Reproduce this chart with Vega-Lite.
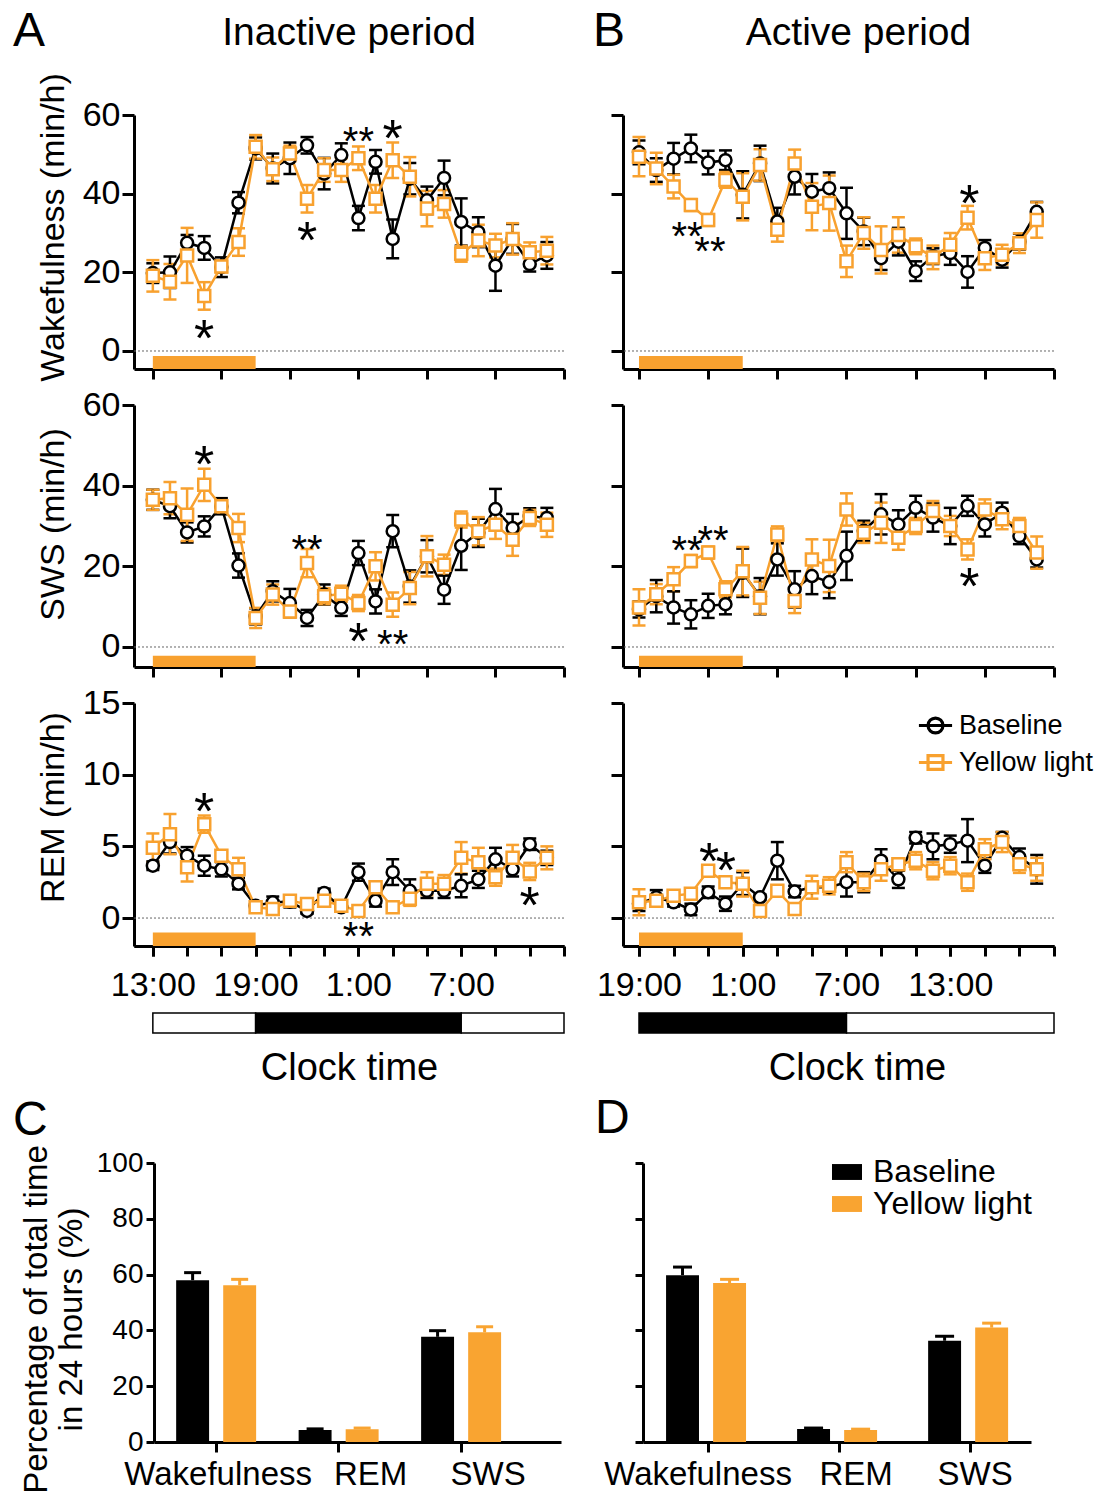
{
"$schema":"https://vega.github.io/schema/vega-lite/v6.json",
"background":"white",
"padding":{"left":12,"top":8,"right":0,"bottom":0},
"config":{
 "view":{"stroke":null},
 "font":"Liberation Sans",
 "point":{"opacity":1},
 "tick":{"opacity":1},
 "axis":{"domainColor":"black","domainWidth":3,"tickColor":"black","tickWidth":3,"tickSize":12,"labelColor":"black","labelFont":"Liberation Sans","labelFontSize":34,"titleFont":"Liberation Sans","titleFontSize":34,"titleFontWeight":"normal","titleColor":"black","grid":false,"labelPadding":2,"titlePadding":12}
},
"datasets":{
 "light":[{"s":0,"e":6}],
 "ldA":[{"s":0,"e":6,"k":"L"},{"s":6,"e":18,"k":"D"},{"s":18,"e":24,"k":"L"}],
 "ldB":[{"s":0,"e":12,"k":"D"},{"s":12,"e":24,"k":"L"}],
 "wA":[
{"h":0,"c":"Baseline","v":19.8,"e":2.5},{"h":1,"c":"Baseline","v":20,"e":4},{"h":2,"c":"Baseline","v":27.5,"e":2},{"h":3,"c":"Baseline","v":26.2,"e":3},{"h":4,"c":"Baseline","v":21.3,"e":2.5},{"h":5,"c":"Baseline","v":37.7,"e":2.7},{"h":6,"c":"Baseline","v":51.5,"e":2.8},{"h":7,"c":"Baseline","v":46.4,"e":3.8},{"h":8,"c":"Baseline","v":49,"e":4},{"h":9,"c":"Baseline","v":52.3,"e":2.1},{"h":10,"c":"Baseline","v":45.1,"e":4},{"h":11,"c":"Baseline","v":49.8,"e":3},{"h":12,"c":"Baseline","v":33.8,"e":3.1},{"h":13,"c":"Baseline","v":48.1,"e":3},{"h":14,"c":"Baseline","v":28.5,"e":4.9},{"h":15,"c":"Baseline","v":43.8,"e":4},{"h":16,"c":"Baseline","v":38.3,"e":3.5},{"h":17,"c":"Baseline","v":44,"e":4.4},{"h":18,"c":"Baseline","v":32.8,"e":6},{"h":19,"c":"Baseline","v":30.2,"e":3.8},{"h":20,"c":"Baseline","v":21.7,"e":6.4},{"h":21,"c":"Baseline","v":28.5,"e":3.8},{"h":22,"c":"Baseline","v":22.1,"e":1.9},{"h":23,"c":"Baseline","v":24.3,"e":3.4},
{"h":0,"c":"Yellow light","v":19.1,"e":4},{"h":1,"c":"Yellow light","v":17.6,"e":4.5},{"h":2,"c":"Yellow light","v":24.3,"e":7},{"h":3,"c":"Yellow light","v":14,"e":3.5},{"h":4,"c":"Yellow light","v":21.5,"e":1.5},{"h":5,"c":"Yellow light","v":27.7,"e":3.5},{"h":6,"c":"Yellow light","v":51.9,"e":3},{"h":7,"c":"Yellow light","v":46.2,"e":3},{"h":8,"c":"Yellow light","v":50.2,"e":2},{"h":9,"c":"Yellow light","v":38.7,"e":3.5},{"h":10,"c":"Yellow light","v":46,"e":3},{"h":11,"c":"Yellow light","v":46,"e":3},{"h":12,"c":"Yellow light","v":49,"e":3},{"h":13,"c":"Yellow light","v":38.7,"e":3.5},{"h":14,"c":"Yellow light","v":48.5,"e":4.5},{"h":15,"c":"Yellow light","v":44.3,"e":5},{"h":16,"c":"Yellow light","v":36.2,"e":4.5},{"h":17,"c":"Yellow light","v":37.4,"e":3.5},{"h":18,"c":"Yellow light","v":24.7,"e":2},{"h":19,"c":"Yellow light","v":28.1,"e":4},{"h":20,"c":"Yellow light","v":26.8,"e":3},{"h":21,"c":"Yellow light","v":28.5,"e":4},{"h":22,"c":"Yellow light","v":25.1,"e":2.5},{"h":23,"c":"Yellow light","v":25.5,"e":3.5}],
 "wB":[
{"h":0,"c":"Baseline","v":50.5,"e":3},{"h":1,"c":"Baseline","v":46,"e":3},{"h":2,"c":"Baseline","v":48.9,"e":4},{"h":3,"c":"Baseline","v":51.5,"e":3.5},{"h":4,"c":"Baseline","v":47.9,"e":3},{"h":5,"c":"Baseline","v":48.5,"e":2.5},{"h":6,"c":"Baseline","v":39.7,"e":6},{"h":7,"c":"Baseline","v":47.7,"e":4.5},{"h":8,"c":"Baseline","v":32.9,"e":3.5},{"h":9,"c":"Baseline","v":44.3,"e":4.5},{"h":10,"c":"Baseline","v":40.5,"e":4.5},{"h":11,"c":"Baseline","v":41.4,"e":4},{"h":12,"c":"Baseline","v":35,"e":6.5},{"h":13,"c":"Baseline","v":30.4,"e":3.5},{"h":14,"c":"Baseline","v":23.6,"e":3},{"h":15,"c":"Baseline","v":27.8,"e":3.5},{"h":16,"c":"Baseline","v":20.3,"e":2.5},{"h":17,"c":"Baseline","v":24.1,"e":2},{"h":18,"c":"Baseline","v":24.9,"e":3},{"h":19,"c":"Baseline","v":20.1,"e":4},{"h":20,"c":"Baseline","v":26.2,"e":2},{"h":21,"c":"Baseline","v":23.2,"e":2},{"h":22,"c":"Baseline","v":27.8,"e":2},{"h":23,"c":"Baseline","v":35.4,"e":2.5},
{"h":0,"c":"Yellow light","v":49.4,"e":5},{"h":1,"c":"Yellow light","v":46.4,"e":4},{"h":2,"c":"Yellow light","v":41.8,"e":3},{"h":3,"c":"Yellow light","v":37.1,"e":1.5},{"h":4,"c":"Yellow light","v":33.3,"e":1.5},{"h":5,"c":"Yellow light","v":43.5,"e":2},{"h":6,"c":"Yellow light","v":39.2,"e":6},{"h":7,"c":"Yellow light","v":47.3,"e":4},{"h":8,"c":"Yellow light","v":30.8,"e":3},{"h":9,"c":"Yellow light","v":47.7,"e":3.5},{"h":10,"c":"Yellow light","v":36.7,"e":6},{"h":11,"c":"Yellow light","v":37.6,"e":7},{"h":12,"c":"Yellow light","v":22.8,"e":4},{"h":13,"c":"Yellow light","v":30,"e":4},{"h":14,"c":"Yellow light","v":25.7,"e":6},{"h":15,"c":"Yellow light","v":29.5,"e":4.5},{"h":16,"c":"Yellow light","v":26.6,"e":2},{"h":17,"c":"Yellow light","v":23.8,"e":3},{"h":18,"c":"Yellow light","v":27,"e":3},{"h":19,"c":"Yellow light","v":33.9,"e":3},{"h":20,"c":"Yellow light","v":23.6,"e":3},{"h":21,"c":"Yellow light","v":24.5,"e":2.5},{"h":22,"c":"Yellow light","v":27.4,"e":2.5},{"h":23,"c":"Yellow light","v":33.3,"e":4.5}],
 "sA":[
{"h":0,"c":"Baseline","v":36.5,"e":2.5},{"h":1,"c":"Baseline","v":34.9,"e":3},{"h":2,"c":"Baseline","v":28.4,"e":2.5},{"h":3,"c":"Baseline","v":29.9,"e":2.5},{"h":4,"c":"Baseline","v":34.9,"e":2},{"h":5,"c":"Baseline","v":20.2,"e":3},{"h":6,"c":"Baseline","v":7.6,"e":2},{"h":7,"c":"Baseline","v":13.8,"e":2.5},{"h":8,"c":"Baseline","v":10.9,"e":3.5},{"h":9,"c":"Baseline","v":7.2,"e":2},{"h":10,"c":"Baseline","v":13,"e":2.5},{"h":11,"c":"Baseline","v":9.7,"e":2},{"h":12,"c":"Baseline","v":23.3,"e":3},{"h":13,"c":"Baseline","v":11.3,"e":3},{"h":14,"c":"Baseline","v":28.7,"e":4},{"h":15,"c":"Baseline","v":15,"e":4},{"h":16,"c":"Baseline","v":22.5,"e":4},{"h":17,"c":"Baseline","v":14.2,"e":3.5},{"h":18,"c":"Baseline","v":25.1,"e":6},{"h":19,"c":"Baseline","v":28.3,"e":3.5},{"h":20,"c":"Baseline","v":34.2,"e":5},{"h":21,"c":"Baseline","v":29.5,"e":3.5},{"h":22,"c":"Baseline","v":32.4,"e":2},{"h":23,"c":"Baseline","v":32,"e":2.5},
{"h":0,"c":"Yellow light","v":36.5,"e":2.5},{"h":1,"c":"Yellow light","v":36.9,"e":4},{"h":2,"c":"Yellow light","v":32.8,"e":6.5},{"h":3,"c":"Yellow light","v":40.2,"e":4},{"h":4,"c":"Yellow light","v":34.9,"e":1.5},{"h":5,"c":"Yellow light","v":29.5,"e":3.5},{"h":6,"c":"Yellow light","v":7.2,"e":2.5},{"h":7,"c":"Yellow light","v":13,"e":2.5},{"h":8,"c":"Yellow light","v":8.8,"e":1.5},{"h":9,"c":"Yellow light","v":20.8,"e":3.5},{"h":10,"c":"Yellow light","v":12.6,"e":2},{"h":11,"c":"Yellow light","v":13.2,"e":2},{"h":12,"c":"Yellow light","v":10.9,"e":2},{"h":13,"c":"Yellow light","v":20,"e":3.5},{"h":14,"c":"Yellow light","v":10.5,"e":3},{"h":15,"c":"Yellow light","v":14.6,"e":4},{"h":16,"c":"Yellow light","v":22.5,"e":5},{"h":17,"c":"Yellow light","v":20.4,"e":2.5},{"h":18,"c":"Yellow light","v":31.6,"e":2},{"h":19,"c":"Yellow light","v":28.7,"e":3.5},{"h":20,"c":"Yellow light","v":30.3,"e":3.5},{"h":21,"c":"Yellow light","v":26.6,"e":4},{"h":22,"c":"Yellow light","v":32,"e":2},{"h":23,"c":"Yellow light","v":30.3,"e":3}],
 "sB":[
{"h":0,"c":"Baseline","v":9.3,"e":2},{"h":1,"c":"Baseline","v":12.6,"e":4},{"h":2,"c":"Baseline","v":9.8,"e":4},{"h":3,"c":"Baseline","v":8.1,"e":3.5},{"h":4,"c":"Baseline","v":10.2,"e":3},{"h":5,"c":"Baseline","v":10.6,"e":2.5},{"h":6,"c":"Baseline","v":18.4,"e":6},{"h":7,"c":"Baseline","v":12.6,"e":4.5},{"h":8,"c":"Baseline","v":21.7,"e":4},{"h":9,"c":"Baseline","v":14.3,"e":4.5},{"h":10,"c":"Baseline","v":17.6,"e":4.5},{"h":11,"c":"Baseline","v":16.1,"e":4},{"h":12,"c":"Baseline","v":22.6,"e":6},{"h":13,"c":"Baseline","v":28.8,"e":2.5},{"h":14,"c":"Baseline","v":32.9,"e":5},{"h":15,"c":"Baseline","v":30.4,"e":3.5},{"h":16,"c":"Baseline","v":34.5,"e":3},{"h":17,"c":"Baseline","v":32.1,"e":3.5},{"h":18,"c":"Baseline","v":30,"e":4.5},{"h":19,"c":"Baseline","v":35,"e":2.5},{"h":20,"c":"Baseline","v":30.4,"e":3},{"h":21,"c":"Baseline","v":33.3,"e":2.5},{"h":22,"c":"Baseline","v":27.5,"e":2},{"h":23,"c":"Baseline","v":21.7,"e":2},
{"h":0,"c":"Yellow light","v":9.8,"e":4.5},{"h":1,"c":"Yellow light","v":13.1,"e":2.5},{"h":2,"c":"Yellow light","v":16.8,"e":3},{"h":3,"c":"Yellow light","v":21.3,"e":1.5},{"h":4,"c":"Yellow light","v":23.4,"e":1.5},{"h":5,"c":"Yellow light","v":14.3,"e":2},{"h":6,"c":"Yellow light","v":18.8,"e":6},{"h":7,"c":"Yellow light","v":12.2,"e":4},{"h":8,"c":"Yellow light","v":27.9,"e":2},{"h":9,"c":"Yellow light","v":11.4,"e":3},{"h":10,"c":"Yellow light","v":21.7,"e":5},{"h":11,"c":"Yellow light","v":20.1,"e":6.5},{"h":12,"c":"Yellow light","v":34.1,"e":4},{"h":13,"c":"Yellow light","v":28.3,"e":2.5},{"h":14,"c":"Yellow light","v":30.8,"e":5},{"h":15,"c":"Yellow light","v":27.1,"e":3},{"h":16,"c":"Yellow light","v":30,"e":2},{"h":17,"c":"Yellow light","v":33.7,"e":2.5},{"h":18,"c":"Yellow light","v":30,"e":2.5},{"h":19,"c":"Yellow light","v":24.2,"e":2.5},{"h":20,"c":"Yellow light","v":34.1,"e":2.5},{"h":21,"c":"Yellow light","v":31.7,"e":2.5},{"h":22,"c":"Yellow light","v":30,"e":2},{"h":23,"c":"Yellow light","v":23.4,"e":4}],
 "rA":[
{"h":0,"c":"Baseline","v":3.65,"e":0.3},{"h":1,"c":"Baseline","v":5.3,"e":0.8},{"h":2,"c":"Baseline","v":4.35,"e":0.6},{"h":3,"c":"Baseline","v":3.65,"e":0.7},{"h":4,"c":"Baseline","v":3.4,"e":0.5},{"h":5,"c":"Baseline","v":2.4,"e":0.4},{"h":6,"c":"Baseline","v":0.86,"e":0.2},{"h":7,"c":"Baseline","v":1.1,"e":0.4},{"h":8,"c":"Baseline","v":1.14,"e":0.4},{"h":9,"c":"Baseline","v":0.5,"e":0.2},{"h":10,"c":"Baseline","v":1.75,"e":0.3},{"h":11,"c":"Baseline","v":0.75,"e":0.2},{"h":12,"c":"Baseline","v":3.2,"e":0.6},{"h":13,"c":"Baseline","v":1.2,"e":0.4},{"h":14,"c":"Baseline","v":3.2,"e":0.9},{"h":15,"c":"Baseline","v":1.9,"e":0.8},{"h":16,"c":"Baseline","v":1.9,"e":0.5},{"h":17,"c":"Baseline","v":1.9,"e":0.5},{"h":18,"c":"Baseline","v":2.25,"e":0.8},{"h":19,"c":"Baseline","v":2.7,"e":0.6},{"h":20,"c":"Baseline","v":4.1,"e":0.8},{"h":21,"c":"Baseline","v":3.4,"e":0.5},{"h":22,"c":"Baseline","v":5.15,"e":0.4},{"h":23,"c":"Baseline","v":4.2,"e":0.5},
{"h":0,"c":"Yellow light","v":4.9,"e":1},{"h":1,"c":"Yellow light","v":5.85,"e":1.4},{"h":2,"c":"Yellow light","v":3.55,"e":1},{"h":3,"c":"Yellow light","v":6.55,"e":0.6},{"h":4,"c":"Yellow light","v":4.35,"e":0.3},{"h":5,"c":"Yellow light","v":3.4,"e":0.8},{"h":6,"c":"Yellow light","v":0.75,"e":0.2},{"h":7,"c":"Yellow light","v":0.63,"e":0.2},{"h":8,"c":"Yellow light","v":1.2,"e":0.3},{"h":9,"c":"Yellow light","v":0.98,"e":0.3},{"h":10,"c":"Yellow light","v":1.2,"e":0.3},{"h":11,"c":"Yellow light","v":0.86,"e":0.2},{"h":12,"c":"Yellow light","v":0.5,"e":0.2},{"h":13,"c":"Yellow light","v":2.15,"e":0.4},{"h":14,"c":"Yellow light","v":0.75,"e":0.2},{"h":15,"c":"Yellow light","v":1.35,"e":0.5},{"h":16,"c":"Yellow light","v":2.4,"e":0.8},{"h":17,"c":"Yellow light","v":2.4,"e":0.6},{"h":18,"c":"Yellow light","v":4.2,"e":1.1},{"h":19,"c":"Yellow light","v":3.9,"e":1},{"h":20,"c":"Yellow light","v":2.85,"e":0.6},{"h":21,"c":"Yellow light","v":4.2,"e":0.9},{"h":22,"c":"Yellow light","v":3.25,"e":0.6},{"h":23,"c":"Yellow light","v":4.2,"e":0.8}],
 "rB":[
{"h":0,"c":"Baseline","v":1.0,"e":0.5},{"h":1,"c":"Baseline","v":1.45,"e":0.5},{"h":2,"c":"Baseline","v":1.1,"e":0.3},{"h":3,"c":"Baseline","v":0.6,"e":0.4},{"h":4,"c":"Baseline","v":1.8,"e":0.4},{"h":5,"c":"Baseline","v":1.0,"e":0.5},{"h":6,"c":"Baseline","v":2.4,"e":0.8},{"h":7,"c":"Baseline","v":1.45,"e":0.2},{"h":8,"c":"Baseline","v":4.0,"e":1.3},{"h":9,"c":"Baseline","v":1.85,"e":0.4},{"h":10,"c":"Baseline","v":2.15,"e":0.3},{"h":11,"c":"Baseline","v":2.15,"e":0.3},{"h":12,"c":"Baseline","v":2.5,"e":1},{"h":13,"c":"Baseline","v":2.5,"e":0.7},{"h":14,"c":"Baseline","v":4.0,"e":0.8},{"h":15,"c":"Baseline","v":2.7,"e":0.6},{"h":16,"c":"Baseline","v":5.6,"e":0.4},{"h":17,"c":"Baseline","v":5.0,"e":0.9},{"h":18,"c":"Baseline","v":5.15,"e":0.6},{"h":19,"c":"Baseline","v":5.4,"e":1.5},{"h":20,"c":"Baseline","v":3.65,"e":0.5},{"h":21,"c":"Baseline","v":5.6,"e":0.4},{"h":22,"c":"Baseline","v":4.25,"e":0.6},{"h":23,"c":"Baseline","v":3.4,"e":1},
{"h":0,"c":"Yellow light","v":1.1,"e":0.9},{"h":1,"c":"Yellow light","v":1.2,"e":0.4},{"h":2,"c":"Yellow light","v":1.55,"e":0.3},{"h":3,"c":"Yellow light","v":1.7,"e":0.3},{"h":4,"c":"Yellow light","v":3.3,"e":0.2},{"h":5,"c":"Yellow light","v":2.5,"e":0.3},{"h":6,"c":"Yellow light","v":2.4,"e":0.9},{"h":7,"c":"Yellow light","v":0.5,"e":0.3},{"h":8,"c":"Yellow light","v":1.9,"e":0.3},{"h":9,"c":"Yellow light","v":0.63,"e":0.3},{"h":10,"c":"Yellow light","v":2.15,"e":0.8},{"h":11,"c":"Yellow light","v":2.25,"e":0.6},{"h":12,"c":"Yellow light","v":3.9,"e":0.7},{"h":13,"c":"Yellow light","v":2.5,"e":0.6},{"h":14,"c":"Yellow light","v":3.4,"e":0.8},{"h":15,"c":"Yellow light","v":3.75,"e":0.3},{"h":16,"c":"Yellow light","v":4.0,"e":0.6},{"h":17,"c":"Yellow light","v":3.3,"e":0.6},{"h":18,"c":"Yellow light","v":3.65,"e":0.6},{"h":19,"c":"Yellow light","v":2.5,"e":0.6},{"h":20,"c":"Yellow light","v":4.8,"e":0.7},{"h":21,"c":"Yellow light","v":5.3,"e":0.7},{"h":22,"c":"Yellow light","v":3.75,"e":0.6},{"h":23,"c":"Yellow light","v":3.4,"e":0.8}],
 "tWA":[{"h":3,"v":5.6,"t":"*"},{"h":9,"v":30.5,"t":"*"},{"h":12,"v":55.7,"t":"**"},{"h":14,"v":56.5,"t":"*"}],
 "tWB":[{"h":2.78,"v":31.6,"t":"**"},{"h":4.1,"v":27.8,"t":"**"},{"h":19.1,"v":40,"t":"*"}],
 "tSA":[{"h":3,"v":47.6,"t":"*"},{"h":9,"v":26.5,"t":"**"},{"h":12,"v":3.7,"t":"*"},{"h":14,"v":3.0,"t":"**"}],
 "tSB":[{"h":2.78,"v":26.2,"t":"**"},{"h":4.28,"v":28.7,"t":"**"},{"h":19.1,"v":17.3,"t":"*"}],
 "tRA":[{"h":3,"v":8.07,"t":"*"},{"h":12,"v":-0.65,"t":"**"},{"h":22,"v":1.56,"t":"*"}],
 "tRB":[{"h":4.05,"v":4.58,"t":"*"},{"h":5.03,"v":4.0,"t":"*"}],
 "barsC":[{"s":"Wakefulness","c":"Baseline","v":58,"hi":60.7},{"s":"Wakefulness","c":"Yellow light","v":56.2,"hi":58.3},{"s":"REM","c":"Baseline","v":4.3,"hi":4.7},{"s":"REM","c":"Yellow light","v":4.6,"hi":5.0},{"s":"SWS","c":"Baseline","v":37.7,"hi":39.9},{"s":"SWS","c":"Yellow light","v":39.3,"hi":41.3}],
 "barsD":[{"s":"Wakefulness","c":"Baseline","v":59.8,"hi":62.7},{"s":"Wakefulness","c":"Yellow light","v":57,"hi":58.3},{"s":"REM","c":"Baseline","v":4.7,"hi":5.0},{"s":"REM","c":"Yellow light","v":4.3,"hi":4.6},{"s":"SWS","c":"Baseline","v":36.3,"hi":37.9},{"s":"SWS","c":"Yellow light","v":41,"hi":42.6}]
},
"columns":2,
"align":"each",
"bounds":"flush",
"spacing":{"row":36,"column":59},
"resolve":{"scale":{"color":"independent","stroke":"independent","shape":"independent","fill":"independent","size":"independent"},"legend":{"color":"independent","stroke":"independent","shape":"independent","fill":"independent","size":"independent"}},
"concat":[
 {"width":430,"height":254,
  "title":{"text":"Inactive  period","font":"Liberation Sans","fontSize":39,"fontWeight":"normal","anchor":"middle","frame":"group","offset":20,"color":"black"},
  "layer":[
   {"data":{"name":"light"},"mark":{"type":"rect","color":"#F8A12F"},"encoding":{"x":{"field":"s","type":"quantitative","scale":{"domain":[-1.1,24],"nice":false,"zero":false},"axis":{"values":[0,2,4,6,8,10,12,14,16,18,20,22,24],"labels":false,"title":null,"tickSize":10}},"x2":{"field":"e"},"y":{"datum":-1.3,"type":"quantitative","scale":{"domain":[-4.58,60],"nice":false,"zero":false}},"y2":{"datum":-4.58}}},
   {"data":{"values":[{}]},"mark":{"type":"rule","color":"#666666","strokeDash":[2,2],"strokeWidth":1},"encoding":{"y":{"datum":0,"type":"quantitative","scale":{"domain":[-4.58,60],"nice":false,"zero":false}}}},
   {"data":{"name":"wA"},"encoding":{"x":{"field":"h","type":"quantitative","scale":{"domain":[-1.1,24],"nice":false,"zero":false}},"y":{"field":"v","type":"quantitative","scale":{"domain":[-4.58,60],"nice":false,"zero":false},"axis":{"values":[0,20,40,60],"title":"Wakefulness (min/h)","titleY":112}},"color":{"field":"c","type":"nominal","scale":{"domain":["Baseline","Yellow light"],"range":["#000000","#F8A12F"]},"legend":null}},
    "layer":[
     {"mark":{"type":"errorbar","thickness":2.5,"ticks":{"size":13,"opacity":1}},"encoding":{"yError":{"field":"e"}}},
     {"mark":{"type":"line","strokeWidth":2.5}},
     {"mark":{"type":"point","filled":false,"fill":"white","size":144,"strokeWidth":2.5,"opacity":1},"encoding":{"shape":{"field":"c","type":"nominal","scale":{"domain":["Baseline","Yellow light"],"range":["circle","square"]},"legend":null}}}
    ]},
   {"data":{"name":"tWA"},"mark":{"type":"text","dy":11,"color":"black"},"encoding":{"x":{"field":"h","type":"quantitative","scale":{"domain":[-1.1,24],"nice":false,"zero":false}},"y":{"field":"v","type":"quantitative","scale":{"domain":[-4.58,60],"nice":false,"zero":false}},"text":{"field":"t"},"size":{"field":"t","type":"ordinal","scale":{"domain":["*","**"],"range":[52,40]},"legend":null}}}
  ]},
 {"width":431,"height":254,
  "title":{"text":"Active period","font":"Liberation Sans","fontSize":39,"fontWeight":"normal","anchor":"middle","frame":"group","offset":61,"dx":20,"color":"black"},
  "layer":[
   {"data":{"name":"light"},"mark":{"type":"rect","color":"#F8A12F"},"encoding":{"x":{"field":"s","type":"quantitative","scale":{"domain":[-0.925,24],"nice":false,"zero":false},"axis":{"values":[0,2,4,6,8,10,12,14,16,18,20,22,24],"labels":false,"title":null,"tickSize":10}},"x2":{"field":"e"},"y":{"datum":-1.3,"type":"quantitative","scale":{"domain":[-4.58,60],"nice":false,"zero":false}},"y2":{"datum":-4.58}}},
   {"data":{"values":[{}]},"mark":{"type":"rule","color":"#666666","strokeDash":[2,2],"strokeWidth":1},"encoding":{"y":{"datum":0,"type":"quantitative","scale":{"domain":[-4.58,60],"nice":false,"zero":false}}}},
   {"data":{"name":"wB"},"encoding":{"x":{"field":"h","type":"quantitative","scale":{"domain":[-0.925,24],"nice":false,"zero":false}},"y":{"field":"v","type":"quantitative","scale":{"domain":[-4.58,60],"nice":false,"zero":false},"axis":{"values":[0,20,40,60],"labels":false,"title":null}},"color":{"field":"c","type":"nominal","scale":{"domain":["Baseline","Yellow light"],"range":["#000000","#F8A12F"]},"legend":null}},
    "layer":[
     {"mark":{"type":"errorbar","thickness":2.5,"ticks":{"size":13,"opacity":1}},"encoding":{"yError":{"field":"e"}}},
     {"mark":{"type":"line","strokeWidth":2.5}},
     {"mark":{"type":"point","filled":false,"fill":"white","size":144,"strokeWidth":2.5,"opacity":1},"encoding":{"shape":{"field":"c","type":"nominal","scale":{"domain":["Baseline","Yellow light"],"range":["circle","square"]},"legend":null}}}
    ]},
   {"data":{"name":"tWB"},"mark":{"type":"text","dy":11,"color":"black"},"encoding":{"x":{"field":"h","type":"quantitative","scale":{"domain":[-0.925,24],"nice":false,"zero":false}},"y":{"field":"v","type":"quantitative","scale":{"domain":[-4.58,60],"nice":false,"zero":false}},"text":{"field":"t"},"size":{"field":"t","type":"ordinal","scale":{"domain":["*","**"],"range":[52,40]},"legend":null}}}
  ]},
 {"width":430,"height":262,
  "layer":[
   {"data":{"name":"light"},"mark":{"type":"rect","color":"#F8A12F"},"encoding":{"x":{"field":"s","type":"quantitative","scale":{"domain":[-1.1,24],"nice":false,"zero":false},"axis":{"values":[0,2,4,6,8,10,12,14,16,18,20,22,24],"labels":false,"title":null,"tickSize":10}},"x2":{"field":"e"},"y":{"datum":-2.2,"type":"quantitative","scale":{"domain":[-4.96,60],"nice":false,"zero":false}},"y2":{"datum":-4.96}}},
   {"data":{"values":[{}]},"mark":{"type":"rule","color":"#666666","strokeDash":[2,2],"strokeWidth":1},"encoding":{"y":{"datum":0,"type":"quantitative","scale":{"domain":[-4.96,60],"nice":false,"zero":false}}}},
   {"data":{"name":"sA"},"encoding":{"x":{"field":"h","type":"quantitative","scale":{"domain":[-1.1,24],"nice":false,"zero":false}},"y":{"field":"v","type":"quantitative","scale":{"domain":[-4.96,60],"nice":false,"zero":false},"axis":{"values":[0,20,40,60],"title":"SWS (min/h)","titleY":119}},"color":{"field":"c","type":"nominal","scale":{"domain":["Baseline","Yellow light"],"range":["#000000","#F8A12F"]},"legend":null}},
    "layer":[
     {"mark":{"type":"errorbar","thickness":2.5,"ticks":{"size":13,"opacity":1}},"encoding":{"yError":{"field":"e"}}},
     {"mark":{"type":"line","strokeWidth":2.5}},
     {"mark":{"type":"point","filled":false,"fill":"white","size":144,"strokeWidth":2.5,"opacity":1},"encoding":{"shape":{"field":"c","type":"nominal","scale":{"domain":["Baseline","Yellow light"],"range":["circle","square"]},"legend":null}}}
    ]},
   {"data":{"name":"tSA"},"mark":{"type":"text","dy":11,"color":"black"},"encoding":{"x":{"field":"h","type":"quantitative","scale":{"domain":[-1.1,24],"nice":false,"zero":false}},"y":{"field":"v","type":"quantitative","scale":{"domain":[-4.96,60],"nice":false,"zero":false}},"text":{"field":"t"},"size":{"field":"t","type":"ordinal","scale":{"domain":["*","**"],"range":[52,40]},"legend":null}}},
   {"data":{"values":[{}]},"mark":{"type":"text","text":"A","fontSize":48,"align":"left","baseline":"alphabetic","color":"black"},"encoding":{"x":{"datum":-8.17,"type":"quantitative","scale":{"domain":[-1.1,24],"nice":false,"zero":false}},"y":{"datum":149,"type":"quantitative","scale":{"domain":[-4.96,60],"nice":false,"zero":false}}}}
  ]},
 {"width":431,"height":262,
  "layer":[
   {"data":{"name":"light"},"mark":{"type":"rect","color":"#F8A12F"},"encoding":{"x":{"field":"s","type":"quantitative","scale":{"domain":[-0.925,24],"nice":false,"zero":false},"axis":{"values":[0,2,4,6,8,10,12,14,16,18,20,22,24],"labels":false,"title":null,"tickSize":10}},"x2":{"field":"e"},"y":{"datum":-2.2,"type":"quantitative","scale":{"domain":[-4.96,60],"nice":false,"zero":false}},"y2":{"datum":-4.96}}},
   {"data":{"values":[{}]},"mark":{"type":"rule","color":"#666666","strokeDash":[2,2],"strokeWidth":1},"encoding":{"y":{"datum":0,"type":"quantitative","scale":{"domain":[-4.96,60],"nice":false,"zero":false}}}},
   {"data":{"name":"sB"},"encoding":{"x":{"field":"h","type":"quantitative","scale":{"domain":[-0.925,24],"nice":false,"zero":false}},"y":{"field":"v","type":"quantitative","scale":{"domain":[-4.96,60],"nice":false,"zero":false},"axis":{"values":[0,20,40,60],"labels":false,"title":null}},"color":{"field":"c","type":"nominal","scale":{"domain":["Baseline","Yellow light"],"range":["#000000","#F8A12F"]},"legend":null}},
    "layer":[
     {"mark":{"type":"errorbar","thickness":2.5,"ticks":{"size":13,"opacity":1}},"encoding":{"yError":{"field":"e"}}},
     {"mark":{"type":"line","strokeWidth":2.5}},
     {"mark":{"type":"point","filled":false,"fill":"white","size":144,"strokeWidth":2.5,"opacity":1},"encoding":{"shape":{"field":"c","type":"nominal","scale":{"domain":["Baseline","Yellow light"],"range":["circle","square"]},"legend":null}}}
    ]},
   {"data":{"name":"tSB"},"mark":{"type":"text","dy":11,"color":"black"},"encoding":{"x":{"field":"h","type":"quantitative","scale":{"domain":[-0.925,24],"nice":false,"zero":false}},"y":{"field":"v","type":"quantitative","scale":{"domain":[-4.96,60],"nice":false,"zero":false}},"text":{"field":"t"},"size":{"field":"t","type":"ordinal","scale":{"domain":["*","**"],"range":[52,40]},"legend":null}}},
   {"data":{"values":[{}]},"mark":{"type":"text","text":"B","fontSize":48,"align":"left","baseline":"alphabetic","color":"black"},"encoding":{"x":{"datum":-2.66,"type":"quantitative","scale":{"domain":[-0.925,24],"nice":false,"zero":false}},"y":{"datum":149,"type":"quantitative","scale":{"domain":[-4.96,60],"nice":false,"zero":false}}}}
  ]},
 {"width":430,"height":243,
  "resolve":{"axis":{"x":"independent"}},
  "layer":[
   {"data":{"name":"light"},"mark":{"type":"rect","color":"#F8A12F"},"encoding":{"x":{"field":"s","type":"quantitative","scale":{"domain":[-1.1,24],"nice":false,"zero":false},"axis":{"orient":"bottom","values":[0,2,4,6,8,10,12,14,16,18,20,22,24],"labels":false,"title":null,"tickSize":10}},"x2":{"field":"e"},"y":{"datum":-1.0,"type":"quantitative","scale":{"domain":[-1.95,15],"nice":false,"zero":false}},"y2":{"datum":-1.95}}},
   {"data":{"values":[{}]},"mark":{"type":"rule","color":"#666666","strokeDash":[2,2],"strokeWidth":1},"encoding":{"y":{"datum":0,"type":"quantitative","scale":{"domain":[-1.95,15],"nice":false,"zero":false}}}},
   {"data":{"name":"rA"},"encoding":{"x":{"field":"h","type":"quantitative","scale":{"domain":[-1.1,24],"nice":false,"zero":false},"axis":{"orient":"bottom","values":[0,6,12,18],"labelExpr":"datum.value==0?'13:00':datum.value==6?'19:00':datum.value==12?'1:00':'7:00'","labelFontSize":34,"labelFlush":false,"labelPadding":12,"tickSize":10,"title":"Clock time","titleFontSize":38,"titlePadding":47}},"y":{"field":"v","type":"quantitative","scale":{"domain":[-1.95,15],"nice":false,"zero":false},"axis":{"values":[0,5,10,15],"title":"REM (min/h)","titleY":104}},"color":{"field":"c","type":"nominal","scale":{"domain":["Baseline","Yellow light"],"range":["#000000","#F8A12F"]},"legend":null}},
    "layer":[
     {"mark":{"type":"errorbar","thickness":2.5,"ticks":{"size":13,"opacity":1}},"encoding":{"yError":{"field":"e"}}},
     {"mark":{"type":"line","strokeWidth":2.5}},
     {"mark":{"type":"point","filled":false,"fill":"white","size":144,"strokeWidth":2.5,"opacity":1},"encoding":{"shape":{"field":"c","type":"nominal","scale":{"domain":["Baseline","Yellow light"],"range":["circle","square"]},"legend":null}}}
    ]},
   {"data":{"name":"tRA"},"mark":{"type":"text","dy":11,"color":"black"},"encoding":{"x":{"field":"h","type":"quantitative","scale":{"domain":[-1.1,24],"nice":false,"zero":false},"axis":null},"y":{"field":"v","type":"quantitative","scale":{"domain":[-1.95,15],"nice":false,"zero":false}},"text":{"field":"t"},"size":{"field":"t","type":"ordinal","scale":{"domain":["*","**"],"range":[52,40]},"legend":null}}}
  ]},
 {"width":431,"height":243,
  "resolve":{"axis":{"x":"independent"}},
  "layer":[
   {"data":{"name":"light"},"mark":{"type":"rect","color":"#F8A12F"},"encoding":{"x":{"field":"s","type":"quantitative","scale":{"domain":[-0.925,24],"nice":false,"zero":false},"axis":{"orient":"bottom","values":[0,2,4,6,8,10,12,14,16,18,20,22,24],"labels":false,"title":null,"tickSize":10}},"x2":{"field":"e"},"y":{"datum":-1.0,"type":"quantitative","scale":{"domain":[-1.95,15],"nice":false,"zero":false}},"y2":{"datum":-1.95}}},
   {"data":{"values":[{}]},"mark":{"type":"rule","color":"#666666","strokeDash":[2,2],"strokeWidth":1},"encoding":{"y":{"datum":0,"type":"quantitative","scale":{"domain":[-1.95,15],"nice":false,"zero":false}}}},
   {"data":{"name":"rB"},"encoding":{"x":{"field":"h","type":"quantitative","scale":{"domain":[-0.925,24],"nice":false,"zero":false},"axis":{"orient":"bottom","values":[0,6,12,18],"labelExpr":"datum.value==0?'19:00':datum.value==6?'1:00':datum.value==12?'7:00':'13:00'","labelFontSize":34,"labelFlush":false,"labelPadding":12,"tickSize":10,"title":"Clock time","titleX":234,"titleFontSize":38,"titlePadding":47}},"y":{"field":"v","type":"quantitative","scale":{"domain":[-1.95,15],"nice":false,"zero":false},"axis":{"values":[0,5,10,15],"labels":false,"title":null}}},
    "layer":[
     {"transform":[{"filter":"datum.c === 'Baseline'"}],"mark":{"type":"errorbar","color":"#000000","thickness":2.5,"ticks":{"size":13,"opacity":1}},"encoding":{"yError":{"field":"e"}}},
     {"transform":[{"filter":"datum.c === 'Baseline'"}],"mark":{"type":"line","color":"#000000","strokeWidth":2.5}},
     {"transform":[{"filter":"datum.c === 'Yellow light'"}],"mark":{"type":"errorbar","color":"#F8A12F","thickness":2.5,"ticks":{"size":13,"opacity":1}},"encoding":{"yError":{"field":"e"}}},
     {"transform":[{"filter":"datum.c === 'Yellow light'"}],"mark":{"type":"line","color":"#F8A12F","strokeWidth":2.5}},
     {"transform":[{"filter":"datum.c === 'Baseline'"}],"mark":{"type":"point","shape":"circle","filled":false,"fill":"white","size":144,"strokeWidth":2.5,"opacity":1},"encoding":{"stroke":{"field":"c","type":"nominal","scale":{"domain":["Baseline"],"range":["#000000"]},"legend":{"orient":"none","legendX":294,"legendY":4,"title":null,"labelFont":"Liberation Sans","labelFontSize":27,"labelColor":"black","symbolType":"M-1,0H1M0.45,0A0.45,0.45,0,1,1,-0.45,0A0.45,0.45,0,1,1,0.45,0Z","symbolSize":1100,"symbolStrokeWidth":3.2,"symbolFillColor":"white","labelOffset":5,"padding":0}}}},
     {"transform":[{"filter":"datum.c === 'Yellow light'"}],"mark":{"type":"point","shape":"square","filled":false,"fill":"white","size":144,"strokeWidth":2.5,"opacity":1},"encoding":{"color":{"field":"c","type":"nominal","scale":{"domain":["Yellow light"],"range":["#F8A12F"]},"legend":{"orient":"none","legendX":294,"legendY":41,"title":null,"labelFont":"Liberation Sans","labelFontSize":27,"labelColor":"black","symbolType":"M-1,0H1M-0.45,-0.42H0.45V0.42H-0.45Z","symbolSize":1100,"symbolStrokeWidth":3.2,"symbolFillColor":"white","labelOffset":5,"padding":0}}}}
    ]},
   {"data":{"name":"tRB"},"mark":{"type":"text","dy":11,"color":"black"},"encoding":{"x":{"field":"h","type":"quantitative","scale":{"domain":[-0.925,24],"nice":false,"zero":false},"axis":null},"y":{"field":"v","type":"quantitative","scale":{"domain":[-1.95,15],"nice":false,"zero":false}},"text":{"field":"t"},"size":{"field":"t","type":"ordinal","scale":{"domain":["*","**"],"range":[52,40]},"legend":null}}}
  ]},
 {"width":430,"height":145,
  "data":{"name":"ldA"},
  "mark":{"type":"rect","stroke":"black","strokeWidth":1.5},
  "encoding":{"x":{"field":"s","type":"quantitative","scale":{"domain":[-1.1,24],"nice":false,"zero":false},"axis":null},"x2":{"field":"e"},"y":{"datum":0,"type":"quantitative","scale":{"domain":[-4.7,2.55],"nice":false,"zero":false},"axis":null},"y2":{"datum":1},"fill":{"field":"k","type":"nominal","scale":{"domain":["L","D"],"range":["white","black"]},"legend":null}}},
 {"width":431,"height":145,
  "data":{"name":"ldB"},
  "mark":{"type":"rect","stroke":"black","strokeWidth":1.5},
  "encoding":{"x":{"field":"s","type":"quantitative","scale":{"domain":[-0.925,24],"nice":false,"zero":false},"axis":null},"x2":{"field":"e"},"y":{"datum":0,"type":"quantitative","scale":{"domain":[-4.7,2.55],"nice":false,"zero":false},"axis":null},"y2":{"datum":1},"fill":{"field":"k","type":"nominal","scale":{"domain":["L","D"],"range":["white","black"]},"legend":null}}},
 {"width":427,"height":279,
  "title":{"text":"C","anchor":"start","frame":"group","dx":-121,"fontSize":48,"fontWeight":"normal","font":"Liberation Sans","offset":0,"color":"black"},
  "data":{"name":"barsC"},
  "encoding":{
   "x":{"field":"s","type":"nominal","sort":["Wakefulness","REM","SWS"],"scale":{"range":[20,427],"paddingInner":0.347,"paddingOuter":0.335,"align":0.27},"axis":{"title":null,"labelAngle":0,"labelFontSize":33,"labelLimit":0,"tickSize":10,"labelPadding":6,"labelOffset":{"condition":[{"test":"datum.value === 'REM'","value":32},{"test":"datum.value === 'SWS'","value":27}],"value":2}}},
   "xOffset":{"field":"c","type":"nominal","scale":{"domain":["Baseline","Yellow light"],"paddingInner":0.3,"paddingOuter":0}},
   "color":{"field":"c","type":"nominal","scale":{"domain":["Baseline","Yellow light"],"range":["#000000","#F9A431"]},"legend":null},
   "y":{"field":"v","type":"quantitative","scale":{"domain":[0,100],"nice":false},"axis":{"values":[0,20,40,60,80,100],"offset":-20,"title":["Percentage of total time","in 24 hours (%)"],"titleY":156,"titleFontSize":33,"labelFontSize":28,"tickSize":8,"labelPadding":3,"titlePadding":8}}
  },
  "layer":[
   {"mark":{"type":"bar"}},
   {"mark":{"type":"rule","strokeWidth":3},"encoding":{"y2":{"field":"hi"}}},
   {"mark":{"type":"tick","thickness":3,"size":17,"opacity":1},"encoding":{"y":{"field":"hi","type":"quantitative","scale":{"domain":[0,100],"nice":false}}}}
  ]},
 {"width":408,"height":279,
  "title":{"text":"D","anchor":"start","frame":"group","dx":-28,"fontSize":48,"fontWeight":"normal","font":"Liberation Sans","offset":13,"color":"black"},
  "data":{"name":"barsD"},
  "encoding":{
   "x":{"field":"s","type":"nominal","sort":["Wakefulness","REM","SWS"],"scale":{"range":[20,408],"paddingInner":0.359,"paddingOuter":0.16,"align":0.55},"axis":{"title":null,"labelAngle":0,"labelFontSize":33,"labelLimit":0,"tickSize":10,"labelPadding":6,"labelOffset":{"condition":[{"test":"datum.value === 'REM'","value":17},{"test":"datum.value === 'SWS'","value":5}],"value":-10}}},
   "xOffset":{"field":"c","type":"nominal","scale":{"domain":["Baseline","Yellow light"],"paddingInner":0.3,"paddingOuter":0}},
   "color":{"field":"c","type":"nominal","scale":{"domain":["Baseline","Yellow light"],"range":["#000000","#F9A431"]},"legend":{"orient":"none","legendX":208,"legendY":-7,"title":null,"labelFont":"Liberation Sans","labelFontSize":32,"labelColor":"black","symbolType":"M-1,-0.53H1V0.53H-1Z","symbolSize":900,"symbolStrokeWidth":0,"rowPadding":0,"labelOffset":10,"padding":0}},
   "y":{"field":"v","type":"quantitative","scale":{"domain":[0,100],"nice":false},"axis":{"values":[0,20,40,60,80,100],"offset":-20,"labels":false,"title":null,"tickSize":8}}
  },
  "layer":[
   {"mark":{"type":"bar"}},
   {"mark":{"type":"rule","strokeWidth":3},"encoding":{"y2":{"field":"hi"}}},
   {"mark":{"type":"tick","thickness":3,"size":19,"opacity":1},"encoding":{"y":{"field":"hi","type":"quantitative","scale":{"domain":[0,100],"nice":false}}}}
  ]}
]
}
